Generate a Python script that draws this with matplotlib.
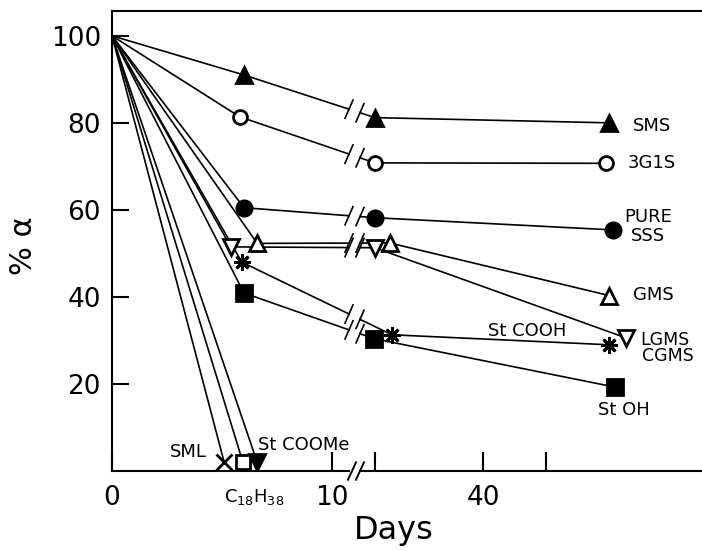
import numpy as np
import matplotlib.pyplot as plt

# data: days, % alpha
sms_days = [0, 6, 20, 90]
sms_val = [100, 91, 81.2, 80]
g3s_days = [0, 5.8, 20, 88]
g3s_val = [100, 81.4, 70.8, 70.7]
sss_days = [0, 6, 20, 92]
sss_val = [100, 60.5, 58.2, 55.4]
gms_days = [0, 6.6, 22, 90]
gms_val = [100, 52.3, 52.4, 40.3]
lgms_days = [0, 5.4, 20, 100]
lgms_val = [100, 51.5, 51.3, 30.6]
cooh_days = [0, 5.9, 22.3, 90]
cooh_val = [100, 48, 31.3, 29]
oh_days = [0, 6, 19.8, 93]
oh_val = [100, 40.9, 30.4, 19.3]
sml_days = [0, 5.1]
sml_val = [100, 2]
c18_days = [0, 5.95]
c18_val = [100, 2]
coome_days = [0, 6.6]
coome_val = [100, 2]

xtick_days = [0, 10, 20, 40, 60]
xtick_labels = ['0', '10', '', '40', '']
ytick_vals = [20, 40, 60, 80, 100]


# broken x axis: linear up to 10 days, log scale from 20 days on
def fwd(d):
    d = np.asarray(d, float)
    lin = 112 + 22 * d
    lg = 483 + 359 * np.log10(np.maximum(d, 1e-9) / 40)
    mid = 332 + (d - 10) * 43 / 10
    return np.where(d <= 10, lin, np.where(d >= 20, lg, mid))


def inv(p):
    p = np.asarray(p, float)
    lin = (p - 112) / 22
    lg = 40 * 10 ** ((p - 483) / 359)
    mid = 10 + (p - 332) * 10 / 43
    return np.where(p <= 332, lin, np.where(p >= 375, lg, mid))


fig = plt.figure(figsize=(7.02, 5.51), dpi=100)
ax = fig.add_axes([112 / 702, 80 / 551, 590 / 702, 460 / 551])
ax.set_xscale('function', functions=(fwd, inv))
ax.set_xlim(0, float(inv(702)))
ax.set_ylim(0, 105.7)

lw = 1.2
series = [
    (sms_days, sms_val, dict(marker='^', mfc='black', ms=12)),
    (g3s_days, g3s_val, dict(marker='o', mfc='white', ms=10)),
    (sss_days, sss_val, dict(marker='o', mfc='black', ms=11)),
    (gms_days, gms_val, dict(marker='^', mfc='white', ms=12)),
    (lgms_days, lgms_val, dict(marker='v', mfc='white', ms=12)),
    (cooh_days, cooh_val, dict(marker=(8, 2, 0), mfc='black', ms=12)),
    (oh_days, oh_val, dict(marker='s', mfc='black', ms=11)),
    (sml_days, sml_val, dict(marker='x', mfc='black', ms=11)),
    (c18_days, c18_val, dict(marker='s', mfc='white', ms=10)),
    (coome_days, coome_val, dict(marker='v', mfc='black', ms=12)),
]

for d, v, m in series:
    ax.plot(d, v, color='black', lw=lw, zorder=2)
    ax.plot(d[1:], v[1:], ls='none', color='black', mec='black', mew=2,
            zorder=4, **m)

    # break marks on the lines crossing the gap
    if len(d) > 2:
        p1, p2 = float(fwd(d[1])), float(fwd(d[2]))
        for pb in (349, 360):
            yb = v[1] + (v[2] - v[1]) * (pb - p1) / (p2 - p1)
            ax.plot([inv(pb - 4), inv(pb + 4)], [yb - 2.1, yb + 2.1],
                    color='black', lw=lw, zorder=3)

# gap of the break
ax.axvspan(float(inv(350)), float(inv(359)), ymin=-0.02, ymax=0.97,
           color='white', zorder=2.7, lw=0, clip_on=False)
for pb in (352, 360):
    ax.plot([inv(pb - 4), inv(pb + 4)], [-2, 2], color='black', lw=1.4,
            zorder=3, clip_on=False)

ax.set_xticks(xtick_days)
ax.set_xticklabels(xtick_labels)
ax.set_yticks(ytick_vals)
ax.tick_params(axis='x', direction='in', length=14, width=1.5, pad=10,
               labelsize=19)
ax.tick_params(axis='y', direction='in', length=12, width=1.5, pad=8,
               labelsize=19)
ax.minorticks_off()
for s in ['left', 'bottom', 'top']:
    ax.spines[s].set_linewidth(1.5)
ax.spines['right'].set_visible(False)

ax.set_ylabel('% α', fontsize=22)
ax.yaxis.set_label_coords(-0.125, 0.49)
ax.set_xlabel('Days', fontsize=23)
ax.xaxis.set_label_coords(0.478, -0.095)

fs = 13
ax.text(float(inv(633)), 79.3, 'SMS', fontsize=fs, va='center')
ax.text(float(inv(628)), 70.8, '3G1S', fontsize=fs, va='center')
ax.text(float(inv(648)), 58.4, 'PURE', fontsize=fs, va='center', ha='center')
ax.text(float(inv(648)), 54.0, 'SSS', fontsize=fs, va='center', ha='center')
ax.text(float(inv(633)), 40.5, 'GMS', fontsize=fs, va='center')
ax.text(float(inv(640)), 30.2, 'LGMS', fontsize=12.5, va='center')
ax.text(float(inv(642)), 26.4, 'CGMS', fontsize=12.5, va='center')
ax.text(float(inv(527)), 32.2, 'St COOH', fontsize=fs, va='center', ha='center')
ax.text(float(inv(624)), 14.0, 'St OH', fontsize=fs, va='center', ha='center')
ax.text(3.45, 4.4, 'SML', fontsize=fs, va='center', ha='center')
ax.text(8.7, 6.0, 'St COOMe', fontsize=fs, va='center', ha='center')
ax.text(6.45, -6.0, r'C$_{18}$H$_{38}$', fontsize=fs, va='center',
        ha='center', clip_on=False)

fig.savefig('out.png', dpi=100)
